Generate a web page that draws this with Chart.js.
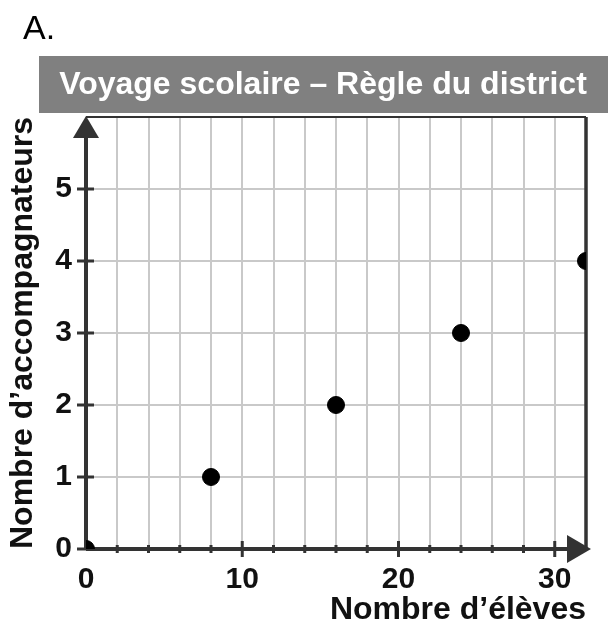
<!DOCTYPE html>
<html>
<head>
<meta charset="utf-8">
<script src="https://cdn.jsdelivr.net/npm/chart.js@4"></script>
<style>
  html, body { margin: 0; padding: 0; background: #fff; }
  #wrap { width: 608px; height: 623px; }
</style>
</head>
<body>
<div id="wrap"><canvas id="tripChart" width="608" height="623"></canvas></div>
<script>
// données du graphique
const eleves = [0, 8, 16, 24, 32];
const accompagnateurs = [0, 1, 2, 3, 4];
const xTickLabels = [0, 10, 20, 30];
const yTickLabels = [0, 1, 2, 3, 4, 5];

const dark = '#333333';
const gridGray = '#c9c9c9';
const fam = '"Liberation Sans", Arial, sans-serif';

// bandeau du titre + "A." + flèches des axes
const decorPlugin = {
    id: 'decor',
    beforeDraw(chart) {
        const ctx = chart.ctx;
        ctx.save();
        ctx.fillStyle = '#808080';
        ctx.fillRect(39, 56, 569, 57);
        ctx.fillStyle = '#ffffff';
        ctx.font = 'bold 32px ' + fam;
        ctx.textAlign = 'center';
        ctx.textBaseline = 'alphabetic';
        ctx.fillText('Voyage scolaire – Règle du district', 323, 94);
        ctx.fillStyle = '#000';
        ctx.font = '34px ' + fam;
        ctx.textAlign = 'left';
        ctx.fillText('A.', 23, 39);
        ctx.restore();
    },
    beforeDatasetsDraw(chart) {
        const ctx = chart.ctx;
        const xs = chart.scales.x, ys = chart.scales.y;
        const x0 = xs.getPixelForValue(0);
        const y0 = ys.getPixelForValue(0);
        const yTop = ys.getPixelForValue(6);
        const xEnd = xs.getPixelForValue(32);
        ctx.save();
        ctx.strokeStyle = dark;
        ctx.fillStyle = dark;

        // bordure du haut
        ctx.lineWidth = 2;
        ctx.beginPath();
        ctx.moveTo(x0, yTop);
        ctx.lineTo(xEnd, yTop);
        ctx.stroke();
        // bordure droite
        ctx.lineWidth = 3.5;
        ctx.beginPath();
        ctx.moveTo(xEnd, yTop);
        ctx.lineTo(xEnd, y0);
        ctx.stroke();

        // axes
        ctx.lineWidth = 4;
        ctx.beginPath();
        ctx.moveTo(x0, y0);
        ctx.lineTo(xEnd - 16, y0);
        ctx.moveTo(x0, y0);
        ctx.lineTo(x0, yTop + 18);
        ctx.stroke();

        // petites graduations
        ctx.lineWidth = 3;
        xs.ticks.forEach(t => {
            if (t.value === 0 || t.value >= 32) return;
            const px = xs.getPixelForValue(t.value);
            const h = t.value % 10 === 0 ? 8 : 4;
            ctx.beginPath();
            ctx.moveTo(px, y0 - h);
            ctx.lineTo(px, y0 + h);
            ctx.stroke();
        });
        ys.ticks.forEach(t => {
            if (t.value >= 6) return;
            const py = ys.getPixelForValue(t.value);
            ctx.beginPath();
            ctx.moveTo(x0 - 9, py);
            ctx.lineTo(x0 + 8, py);
            ctx.stroke();
        });

        // flèches
        ctx.beginPath();
        ctx.moveTo(x0, yTop - 1);
        ctx.lineTo(x0 - 13, yTop + 21);
        ctx.lineTo(x0 + 13, yTop + 21);
        ctx.closePath();
        ctx.fill();
        ctx.beginPath();
        ctx.moveTo(xEnd + 5, y0);
        ctx.lineTo(xEnd - 19, y0 - 14);
        ctx.lineTo(xEnd - 19, y0 + 14);
        ctx.closePath();
        ctx.fill();
        ctx.restore();
    }
};

new Chart(document.getElementById('tripChart'), {
    type: 'scatter',
    data: {
        datasets: [{
            data: eleves.map((v, i) => ({ x: v, y: accompagnateurs[i] })),
            backgroundColor: '#000',
            borderColor: '#000',
            pointRadius: 8.5,
            pointHoverRadius: 8.5,
            clip: 0
        }]
    },
    options: {
        responsive: false,
        animation: false,
        events: [],
        layout: { padding: { top: 117, right: 22, bottom: 0, left: 0 } },
        plugins: {
            legend: { display: false },
            tooltip: { enabled: false }
        },
        scales: {
            x: {
                type: 'linear',
                min: 0,
                max: 32,
                afterFit(scale) { scale.height = 74; },
                border: { display: false },
                grid: {
                    color: gridGray,
                    lineWidth: 2,
                    drawTicks: false
                },
                ticks: {
                    stepSize: 2,
                    autoSkip: false,
                    maxRotation: 0,
                    padding: 13,
                    color: '#111',
                    font: { family: fam, size: 30, weight: 'bold' },
                    callback: v => xTickLabels.includes(v) ? String(v) : ''
                },
                title: {
                    display: true,
                    text: 'Nombre d’élèves',
                    align: 'end',
                    color: '#111',
                    padding: 0,
                    font: { family: fam, size: 32, weight: 'bold', lineHeight: 0.8 }
                }
            },
            y: {
                type: 'linear',
                min: 0,
                max: 6,
                afterFit(scale) { scale.width = 86; },
                border: { display: false },
                grid: {
                    color: gridGray,
                    lineWidth: 2,
                    drawTicks: false
                },
                ticks: {
                    stepSize: 1,
                    autoSkip: false,
                    padding: 14,
                    color: '#111',
                    font: { family: fam, size: 30, weight: 'bold' },
                    callback: v => yTickLabels.includes(v) ? String(v) : ''
                },
                title: {
                    display: true,
                    text: 'Nombre d’accompagnateurs',
                    align: 'start',
                    color: '#111',
                    padding: { top: 4, bottom: 0 },
                    font: { family: fam, size: 32, weight: 'bold' }
                }
            }
        }
    },
    plugins: [decorPlugin]
});
</script>
</body>
</html>
